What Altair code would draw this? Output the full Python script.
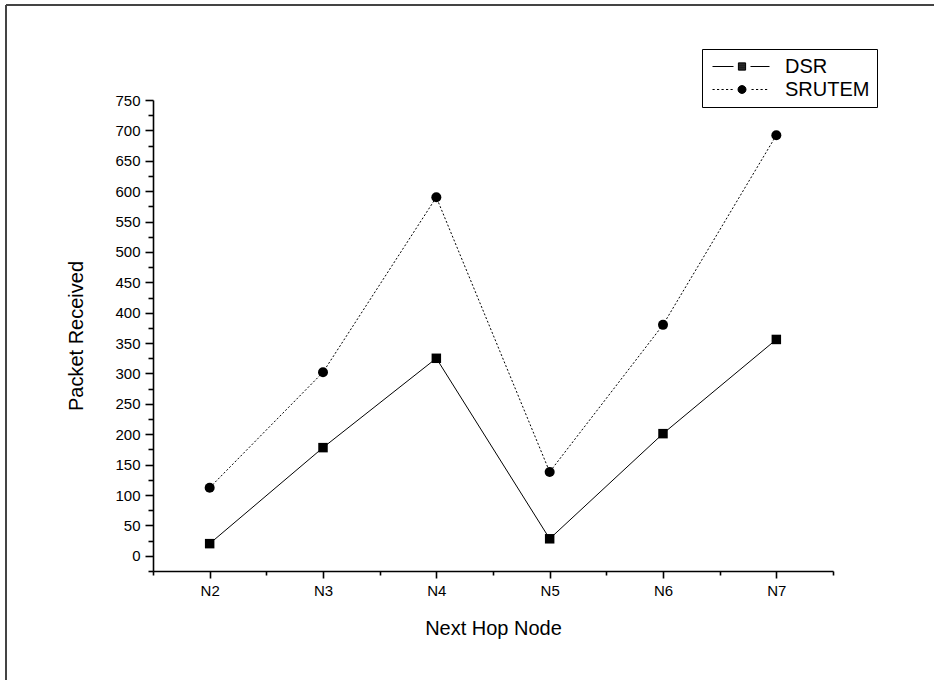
import json
import altair as alt
import pandas as pd

categories = ["N2", "N3", "N4", "N5", "N6", "N7"]
dsr = [20, 178, 325, 28, 201, 356]
srutem = [112, 302, 590, 138, 380, 692]
series_names = ["DSR", "SRUTEM"]

rows = []
for i, c in enumerate(categories):
    rows.append({"idx": i, "node": c, "series": "DSR", "value": dsr[i]})
    rows.append({"idx": i, "node": c, "series": "SRUTEM", "value": srutem[i]})
df = pd.DataFrame(rows)

FONT = "Liberation Sans"
W, H = 680, 471

x_vals = [v / 2 for v in range(-1, 12)]  # -0.5 .. 5.5
y_vals = list(range(-25, 751, 25))
cat_js = json.dumps(categories)

x_enc = alt.X(
    "idx:Q",
    scale=alt.Scale(domain=[-0.5, 5.5], nice=False, zero=False),
    axis=alt.Axis(
        title="Next Hop Node",
        values=x_vals,
        labelExpr=f"datum.value % 1 === 0 ? {cat_js}[datum.value] : ''",
        tickSize={"condition": {"test": "datum.value % 1 === 0", "value": 7}, "value": 4},
        grid=False,
        domainColor="black",
        domainWidth=1.6,
        tickColor="black",
        tickWidth=1.6,
        labelFont=FONT,
        labelFontSize=15,
        labelColor="black",
        labelPadding=5,
        labelFlush=False,
        labelOverlap=False,
        titleFont=FONT,
        titleFontSize=20,
        titleFontWeight="normal",
        titleColor="black",
        titlePadding=20,
    ),
)
y_enc = alt.Y(
    "value:Q",
    scale=alt.Scale(domain=[-25, 750], nice=False, zero=False),
    axis=alt.Axis(
        title="Packet Received",
        values=y_vals,
        labelExpr="datum.value >= 0 && datum.value % 50 === 0 ? datum.label : ''",
        tickSize={"condition": {"test": "datum.value >= 0 && datum.value % 50 === 0", "value": 8}, "value": 5},
        grid=False,
        domainColor="black",
        domainWidth=1.6,
        tickColor="black",
        tickWidth=1.6,
        labelFont=FONT,
        labelFontSize=15,
        labelColor="black",
        labelPadding=5,
        labelFlush=False,
        labelOverlap=False,
        titleFont=FONT,
        titleFontSize=20,
        titleFontWeight="normal",
        titleColor="black",
        titlePadding=28,
    ),
)

# custom legend symbols (line + marker), unit = sqrt(symbolSize)/2 = 10 px
cx = 2.25
sq = "".join(f"M{cx-0.36:.2f},{y:.2f}L{cx+0.36:.2f},{y:.2f}" for y in [-0.32, -0.22, -0.12, -0.04, 0.04, 0.12, 0.22, 0.32])
dsr_sym = ("M-0.7,0L1.4,0M3.1,0L5,0" + sq +
           f"M{cx-0.36:.2f},-0.36L{cx+0.36:.2f},-0.36L{cx+0.36:.2f},0.36L{cx-0.36:.2f},0.36Z")
dots = "".join(f"M{a:.2f},0L{a+0.22:.2f},0" for a in [-0.7, -0.25, 0.2, 0.65, 1.1, 3.2, 3.65, 4.1, 4.55])
r = 0.4
circ_fill = ""
for yy in [-0.3, -0.2, -0.1, 0.0, 0.1, 0.2, 0.3]:
    hw = (r * r - yy * yy) ** 0.5
    circ_fill += f"M{cx - hw:.3f},{yy:.2f}L{cx + hw:.3f},{yy:.2f}"
sru_sym = dots + circ_fill + f"M{cx + r},0A{r},{r},0,1,1,{cx - r},0A{r},{r},0,1,1,{cx + r},0Z"

legend_shape = alt.Shape(
    "series:N",
    scale=alt.Scale(domain=series_names, range=[dsr_sym, sru_sym]),
    legend=alt.Legend(
        title=None,
        orient="none",
        legendX=549,
        legendY=-51,
        direction="vertical",
        strokeColor="black",
        fillColor="white",
        padding=7,
        symbolSize=400,
        symbolStrokeWidth=1,
        symbolStrokeColor="black",
        symbolOpacity=1,
        labelFont=FONT,
        labelFontSize=20,
        labelColor="black",
        labelOffset=55,
        labelExpr="datum.label + '\u00a0\u00a0\u00a0\u00a0\u00a0'",
        rowPadding=2,
    ),
)

base = alt.Chart(df)

line_dsr = base.transform_filter("datum.series === 'DSR'").mark_line(
    color="black", strokeWidth=1
).encode(x=x_enc, y=y_enc)
line_sru = base.transform_filter("datum.series === 'SRUTEM'").mark_line(
    color="black", strokeWidth=1, strokeDash=[2, 2]
).encode(x=x_enc, y=y_enc)

pts_dsr = base.transform_filter("datum.series === 'DSR'").mark_point(
    shape="square", filled=True, color="black", size=90, opacity=1
).encode(x=x_enc, y=y_enc)
pts_sru = base.transform_filter("datum.series === 'SRUTEM'").mark_point(
    shape="circle", filled=True, color="black", size=100, opacity=1
).encode(x=x_enc, y=y_enc)

# invisible layer carrying the legend
legend_layer = base.mark_point(size=0, opacity=0, filled=False, color="black").encode(
    x=x_enc, y=y_enc, shape=legend_shape
)

frame = pd.DataFrame({"k": [0]})
frame_left = alt.Chart(frame).mark_rule(color="#444444", strokeWidth=2).encode(
    x=alt.value(-147), y=alt.value(-95), y2=alt.value(H + 120)
)
frame_top = alt.Chart(frame).mark_rule(color="#444444", strokeWidth=2).encode(
    x=alt.value(-147), x2=alt.value(934), y=alt.value(-95)
)

chart = alt.layer(
    frame_left, frame_top, line_dsr, line_sru, pts_dsr, pts_sru, legend_layer
).properties(
    width=W,
    height=H,
    background="white",
    autosize=alt.AutoSizeParams(type="none"),
    padding={"left": 153, "top": 100, "right": 101, "bottom": 109},
).configure_view(strokeWidth=0, stroke=None)

chart.save("out.html", embed_options={"renderer": "svg", "actions": False})
